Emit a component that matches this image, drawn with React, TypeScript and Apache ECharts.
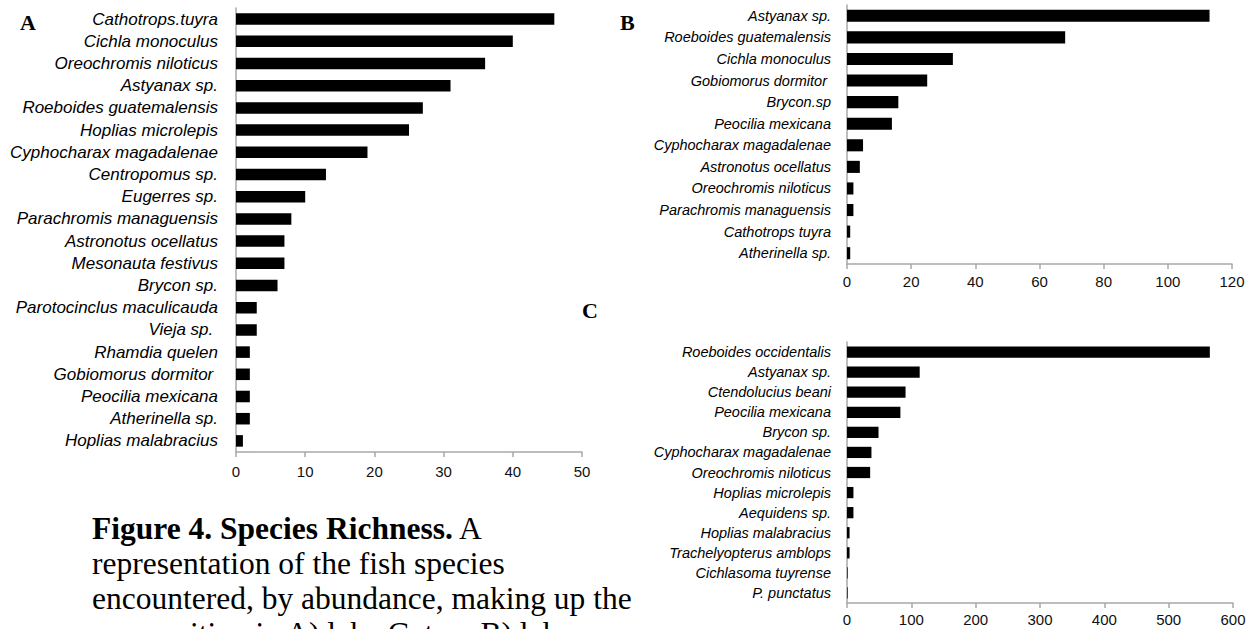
import React, { useEffect, useRef } from "react";
import * as echarts from "echarts";

// Panel A – species counts, lake 1
const aSpecies = [
  "Cathotrops.tuyra",
  "Cichla monoculus",
  "Oreochromis niloticus",
  "Astyanax sp.",
  "Roeboides guatemalensis",
  "Hoplias microlepis",
  "Cyphocharax magadalenae",
  "Centropomus sp.",
  "Eugerres sp.",
  "Parachromis managuensis",
  "Astronotus ocellatus",
  "Mesonauta festivus",
  "Brycon sp.",
  "Parotocinclus maculicauda",
  "Vieja sp.\u00a0",
  "Rhamdia quelen",
  "Gobiomorus dormitor\u00a0",
  "Peocilia mexicana",
  "Atherinella sp.",
  "Hoplias malabracius",
];
const aCounts = [46, 40, 36, 31, 27, 25, 19, 13, 10, 8, 7, 7, 6, 3, 3, 2, 2, 2, 2, 1];

// Panel B
const bSpecies = [
  "Astyanax sp.",
  "Roeboides guatemalensis",
  "Cichla monoculus",
  "Gobiomorus dormitor\u00a0",
  "Brycon.sp",
  "Peocilia mexicana",
  "Cyphocharax magadalenae",
  "Astronotus ocellatus",
  "Oreochromis niloticus",
  "Parachromis managuensis",
  "Cathotrops tuyra",
  "Atherinella sp.",
];
const bCounts = [113, 68, 33, 25, 16, 14, 5, 4, 2, 2, 1, 1];

// Panel C
const cSpecies = [
  "Roeboides occidentalis",
  "Astyanax sp.",
  "Ctendolucius beani",
  "Peocilia mexicana",
  "Brycon sp.",
  "Cyphocharax magadalenae",
  "Oreochromis niloticus",
  "Hoplias microlepis",
  "Aequidens sp.",
  "Hoplias malabracius",
  "Trachelyopterus amblops",
  "Cichlasoma tuyrense",
  "P. punctatus",
];
const cCounts = [564, 113, 91, 83, 49, 38, 36, 10, 10, 4, 4, 1, 1];

// Value-axis ranges: [max, interval]
const aRange = [50, 10];
const bRange = [120, 20];
const cRange = [600, 100];

const panelLetters = ["A", "B", "C"];
const captionLines = [
  "representation of the fish species",
  "encountered, by abundance, making up the",
  "composition in A) lake Gatun, B) lake",
];

const SANS = "'Liberation Sans', Arial, Helvetica, sans-serif";
const SERIF = "'Liberation Serif', 'Times New Roman', Times, serif";
const AXIS_GRAY = "#a8a8a8";

function valueAxis(gridIndex: number, range: number[], fontSize: number, margin: number) {
  return {
    type: "value",
    gridIndex,
    min: 0,
    max: range[0],
    interval: range[1],
    splitLine: { show: false },
    axisLine: { show: true, lineStyle: { color: AXIS_GRAY, width: 1.5 } },
    axisTick: { show: true, length: 5, lineStyle: { color: AXIS_GRAY, width: 1.5 } },
    axisLabel: { color: "#111", fontSize, fontFamily: SANS, margin },
  };
}

function categoryAxis(gridIndex: number, data: string[], fontSize: number, margin: number) {
  return {
    type: "category",
    gridIndex,
    data,
    inverse: true,
    axisLine: { show: true, lineStyle: { color: AXIS_GRAY, width: 1.5 } },
    axisTick: { show: false },
    axisLabel: {
      color: "#000",
      fontSize,
      fontStyle: "italic",
      fontFamily: SANS,
      margin,
      interval: 0,
    },
  };
}

function barSeries(index: number, values: number[], gap: string) {
  return {
    type: "bar",
    xAxisIndex: index,
    yAxisIndex: index,
    data: values,
    barCategoryGap: gap,
    itemStyle: { color: "#000" },
    silent: true,
  };
}

export default function App() {
  const ref = useRef<HTMLDivElement>(null);

  useEffect(() => {
    if (!ref.current) return;
    const chart = echarts.init(ref.current, null, { renderer: "svg" });

    const letterStyle = (text: string) => ({
      text,
      font: `bold 22px ${SERIF}`,
      fill: "#000",
      textVerticalAlign: "middle",
    });

    const captionY = [528, 563, 598, 633];

    chart.setOption({
      animation: false,
      backgroundColor: "#fff",
      grid: [
        { left: 236, top: 8, width: 346, height: 444, containLabel: false },
        { left: 847, top: 5, width: 385, height: 259, containLabel: false },
        { left: 847, top: 342, width: 386, height: 261, containLabel: false },
      ],
      xAxis: [
        valueAxis(0, aRange, 15, 12),
        valueAxis(1, bRange, 15, 10),
        valueAxis(2, cRange, 15, 9),
      ],
      yAxis: [
        categoryAxis(0, aSpecies, 17, 18),
        categoryAxis(1, bSpecies, 14.5, 16),
        categoryAxis(2, cSpecies, 14.5, 16),
      ],
      series: [
        barSeries(0, aCounts, "48%"),
        barSeries(1, bCounts, "44%"),
        barSeries(2, cCounts, "44%"),
      ],
      graphic: [
        { type: "text", x: 20, y: 22, style: letterStyle(panelLetters[0]) },
        { type: "text", x: 620, y: 22, style: letterStyle(panelLetters[1]) },
        { type: "text", x: 582, y: 310, style: letterStyle(panelLetters[2]) },
        {
          type: "text",
          x: 92,
          y: captionY[0],
          style: {
            text: "{b|Figure 4. Species Richness.} A",
            font: `31.5px ${SERIF}`,
            fill: "#000",
            textVerticalAlign: "middle",
            rich: {
              b: { fontWeight: "bold", fontSize: 31.5, fontFamily: SERIF, fill: "#000" },
            },
          },
        },
        ...captionLines.map((line, i) => ({
          type: "text",
          x: 92,
          y: captionY[i + 1],
          style: {
            text: line,
            font: `31.5px ${SERIF}`,
            fill: "#000",
            textVerticalAlign: "middle",
          },
        })),
      ],
    });

    return () => chart.dispose();
  }, []);

  return (
    <div
      ref={ref}
      style={{
        position: "fixed",
        left: 0,
        top: 0,
        width: 1253,
        height: 629,
        overflow: "hidden",
        background: "#fff",
      }}
    />
  );
}
